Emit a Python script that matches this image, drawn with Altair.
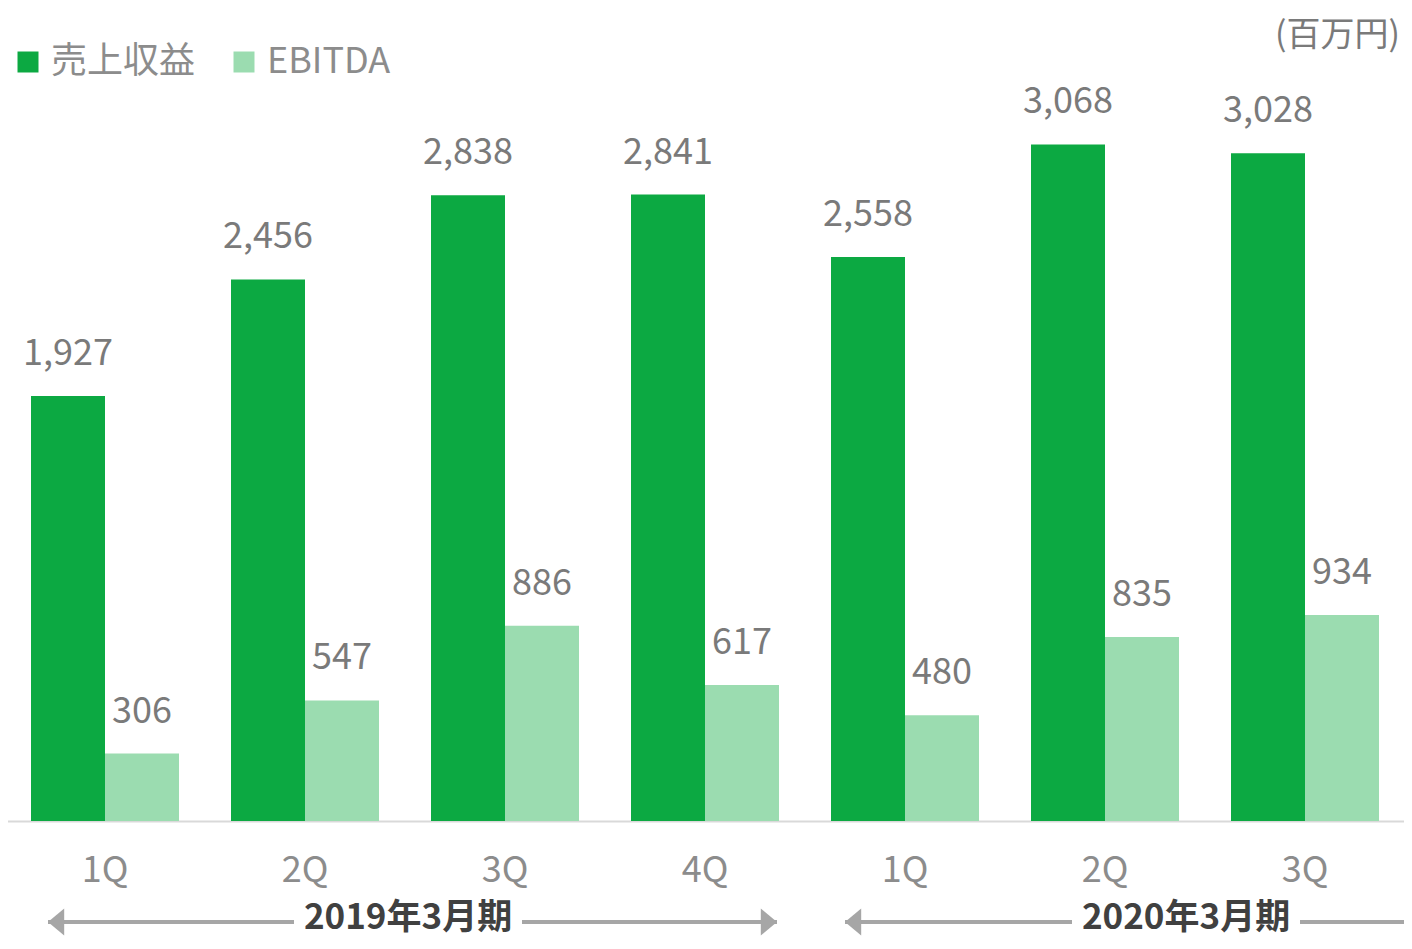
import altair as alt
import pandas as pd

# ---- data ----
fiscal_years = ["2019年3月期"] * 4 + ["2020年3月期"] * 3
quarters = ["1Q", "2Q", "3Q", "4Q", "1Q", "2Q", "3Q"]
revenue = [1927, 2456, 2838, 2841, 2558, 3068, 3028]
ebitda = [306, 547, 886, 617, 480, 835, 934]
series = ["売上収益", "EBITDA"]
colors = ["#0ca942", "#9bdcb0"]
periods = ["2019年3月期", "2020年3月期"]
# span of each period arrow, in quarter-index units (0 = first quarter)
period_start = [-0.285, 3.7]
period_end = [3.36, 6.6]
period_label_at = [1.515, 5.405]
unit_label = "(百万円)"

FONT = "Noto Sans CJK JP"
X_RANGE = [-3, 1397]
GRAY = "#7a7a7a"

keys = [f"{fy}|{q}" for fy, q in zip(fiscal_years, quarters)]
rows = []
for k, r, e in zip(keys, revenue, ebitda):
    rows.append({"key": k, "series": series[0], "value": r, "label": f"{r:,}"})
    rows.append({"key": k, "series": series[1], "value": e, "label": f"{e:,}"})
df = pd.DataFrame(rows)

x_enc = alt.X(
    "key:N",
    sort=keys,
    scale=alt.Scale(range=X_RANGE, paddingInner=0.26, paddingOuter=0.13),
    axis=alt.Axis(
        title=None,
        labelExpr="split(datum.value,'|')[1]",
        labelFontSize=36,
        labelFont=FONT,
        labelColor="#8c8c8c",
        labelPadding=60,
        labelBaseline="alphabetic",
        labelAngle=0,
        ticks=False,
        tickSize=0,
        domainColor="#d9d9d9",
        domainWidth=2,
        grid=False,
    ),
)
xoff = alt.XOffset("series:N", sort=series, scale=alt.Scale(paddingInner=0, paddingOuter=0))
y_enc = alt.Y("value:Q", scale=alt.Scale(domain=[0, 3687], nice=False, zero=True), axis=None)

bars = alt.Chart(df).mark_bar().encode(
    x=x_enc,
    xOffset=xoff,
    y=y_enc,
    color=alt.Color(
        "series:N",
        sort=series,
        scale=alt.Scale(domain=series, range=colors),
        legend=alt.Legend(
            title=None,
            orient="none",
            legendX=2,
            legendY=36,
            direction="horizontal",
            symbolType="square",
            symbolSize=441,
            symbolStrokeWidth=0,
            symbolOpacity=1,
            labelFontSize=36,
            labelFont=FONT,
            labelColor="#8c8c8c",
            labelOffset=5,
            columnPadding=30,
        ),
    ),
)

labels = alt.Chart(df).mark_text(
    baseline="alphabetic", dy=-31, fontSize=36, font=FONT, color=GRAY
).encode(x=x_enc, xOffset=xoff, y=y_enc, text="label:N")

main = alt.layer(bars, labels)

# ---- period arrows ----
seg_rows, head_rows, txt_rows = [], [], []
GAP = 0.57
for p, s, e, c in zip(periods, period_start, period_end, period_label_at):
    seg_rows.append({"a": s, "b": c - GAP})
    seg_rows.append({"a": c + GAP, "b": e})
    head_rows.append({"h": s, "dir": "left"})
    if e <= 6.5:
        head_rows.append({"h": e, "dir": "right"})
    txt_rows.append({"c": c, "t": p})

qscale = alt.Scale(domain=[-0.5, 6.5], range=X_RANGE, nice=False, zero=False)
ARROW_GRAY = "#a6a6a6"

rule = alt.Chart(pd.DataFrame(seg_rows)).mark_rule(color=ARROW_GRAY, strokeWidth=4).encode(
    x=alt.X("a:Q", scale=qscale, axis=None), x2="b:Q", y=alt.value(914)
)
heads = alt.Chart(pd.DataFrame(head_rows)).mark_point(
    filled=True, size=729, color=ARROW_GRAY, opacity=1, strokeWidth=0
).encode(
    x=alt.X("h:Q", scale=qscale, axis=None),
    y=alt.value(914),
    shape=alt.Shape(
        "dir:N",
        scale=alt.Scale(domain=["left", "right"], range=["M0,0L1.2,-1L1.2,1Z", "M0,0L-1.2,-1L-1.2,1Z"]),
        legend=None,
    ),
)
ptext = alt.Chart(pd.DataFrame(txt_rows)).mark_text(
    fontSize=35, fontWeight="bold", font=FONT, color="#404040", baseline="middle"
).encode(x=alt.X("c:Q", scale=qscale, axis=None), y=alt.value(910), text="t:N")

annot = alt.layer(rule, heads, ptext)

chart = (
    alt.layer(main, annot)
    .resolve_scale(x="independent")
    .properties(
        width=1396,
        height=813,
        autosize=alt.AutoSizeParams(type="none"),
        padding={"left": 0, "top": 0, "right": 0, "bottom": 120},
        view=alt.ViewBackground(stroke="transparent", strokeWidth=0),
        title=alt.TitleParams(
            unit_label,
            anchor="end",
            frame="group",
            fontSize=34,
            font=FONT,
            color=GRAY,
            fontWeight="normal",
            dx=-4,
            dy=49,
        ),
    )
    .configure_view(stroke="transparent", strokeWidth=0)
    .configure(background="white")
)

chart.save("out.html", embed_options={"renderer": "svg", "actions": False})
